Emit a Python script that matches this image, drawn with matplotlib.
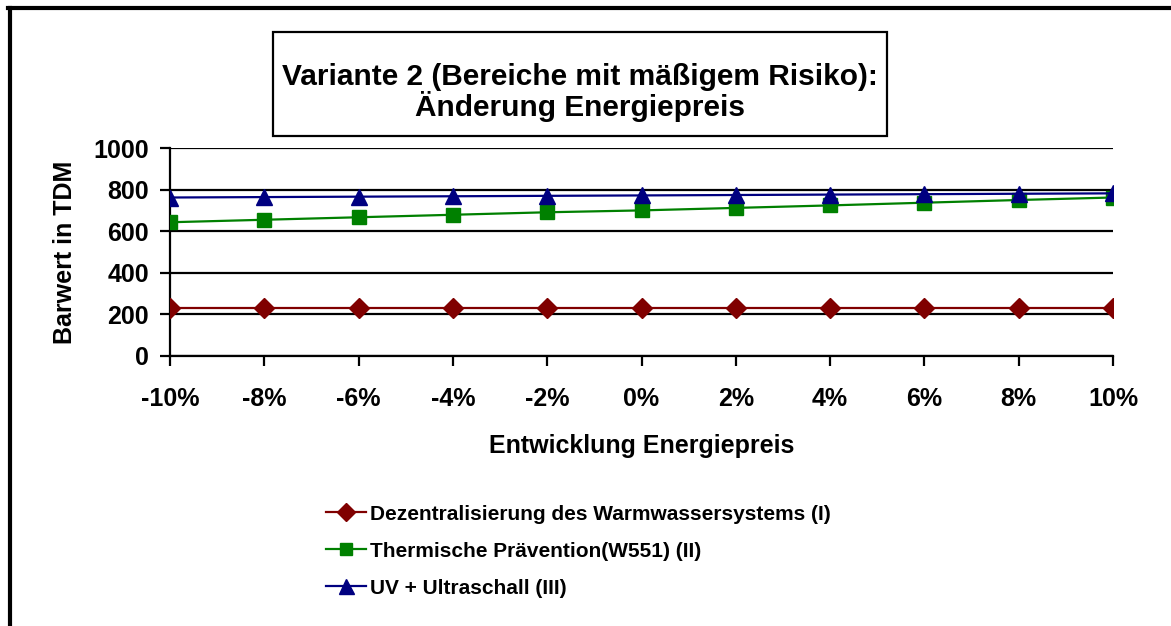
import matplotlib
matplotlib.use("Agg")
import matplotlib.pyplot as plt
from matplotlib.patches import Rectangle
from matplotlib.lines import Line2D

plt.rcParams['font.family'] = ['Liberation Sans', 'DejaVu Sans']
plt.rcParams['font.weight'] = 'bold'

categories = ["-10%", "-8%", "-6%", "-4%", "-2%", "0%", "2%", "4%", "6%", "8%", "10%"]
dezentral = [233, 233, 233, 233, 233, 233, 233, 233, 233, 233, 233]
thermisch = [643, 655, 667, 679, 691, 700, 712, 724, 737, 750, 762]
uv_ultra = [762, 764, 766, 768, 770, 772, 774, 776, 778, 780, 782]
series_names = ["Dezentralisierung des Warmwassersystems (I)",
                "Thermische Prävention(W551) (II)",
                "UV + Ultraschall (III)"]
yticks = [0, 200, 400, 600, 800, 1000]

W, H = 1171, 626
fig = plt.figure(figsize=(W / 100, H / 100), dpi=100)

def fx(px):
    return px / W

def fy(py):
    return 1 - py / H

ax = fig.add_axes([fx(170), fy(356), fx(1113) - fx(170), fy(148) - fy(356)])
x = list(range(len(categories)))

ax.plot(x, dezentral, color='#800000', lw=1.6, marker='D', ms=10.5, label=series_names[0], zorder=3)
ax.plot(x, thermisch, color='#008000', lw=1.6, marker='s', ms=10, label=series_names[1], zorder=3)
ax.plot(x, uv_ultra, color='#000080', lw=1.6, marker='^', ms=12, label=series_names[2], zorder=4)

ax.set_xlim(0, len(categories) - 1)
ax.set_ylim(0, 1000)
ax.set_yticks(yticks)
ax.set_xticks(x)
ax.set_xticklabels(categories)
ax.yaxis.grid(True, color='black', lw=1.6)
ax.set_axisbelow(True)
for s in ['top', 'right']:
    ax.spines[s].set_visible(False)
for s in ['left', 'bottom']:
    ax.spines[s].set_linewidth(1.6)
    ax.spines[s].set_color('black')
ax.tick_params(axis='both', direction='out', length=7, width=1.6, labelsize=18)
ax.tick_params(axis='x', pad=15)
ax.tick_params(axis='y', pad=8)
for lab in ax.get_xticklabels() + ax.get_yticklabels():
    lab.set_fontweight('bold')
ax.set_ylabel("Barwert in TDM", fontsize=18, fontweight='bold', labelpad=12)
ax.set_xlabel("Entwicklung Energiepreis", fontsize=18, fontweight='bold', labelpad=17)

# outer frame (clipped at right/bottom)
fig.add_artist(Line2D([fx(10), fx(10)], [0, fy(8)], color='black', lw=3, transform=fig.transFigure))
fig.add_artist(Line2D([fx(8), 1], [fy(8), fy(8)], color='black', lw=3, transform=fig.transFigure))

# title box
fig.add_artist(Rectangle((fx(273), fy(136)), fx(887) - fx(273), fy(32) - fy(136),
                         fill=False, edgecolor='black', lw=1.6, transform=fig.transFigure))
fig.text(fx(580), fy(77), "Variante 2 (Bereiche mit mäßigem Risiko):", ha='center', va='center',
         fontsize=21.5, fontweight='bold')
fig.text(fx(580), fy(107), "Änderung Energiepreis", ha='center', va='center',
         fontsize=21.5, fontweight='bold')

handles, labels = ax.get_legend_handles_labels()
leg = fig.legend(handles, labels, loc='upper left', bbox_to_anchor=(fx(307), fy(486)),
                 frameon=False, fontsize=15, handlelength=1.95, handletextpad=0.15,
                 labelspacing=0.86, markerscale=0.9)
for t in leg.get_texts():
    t.set_fontweight('bold')

fig.savefig("out.png", dpi=100)
